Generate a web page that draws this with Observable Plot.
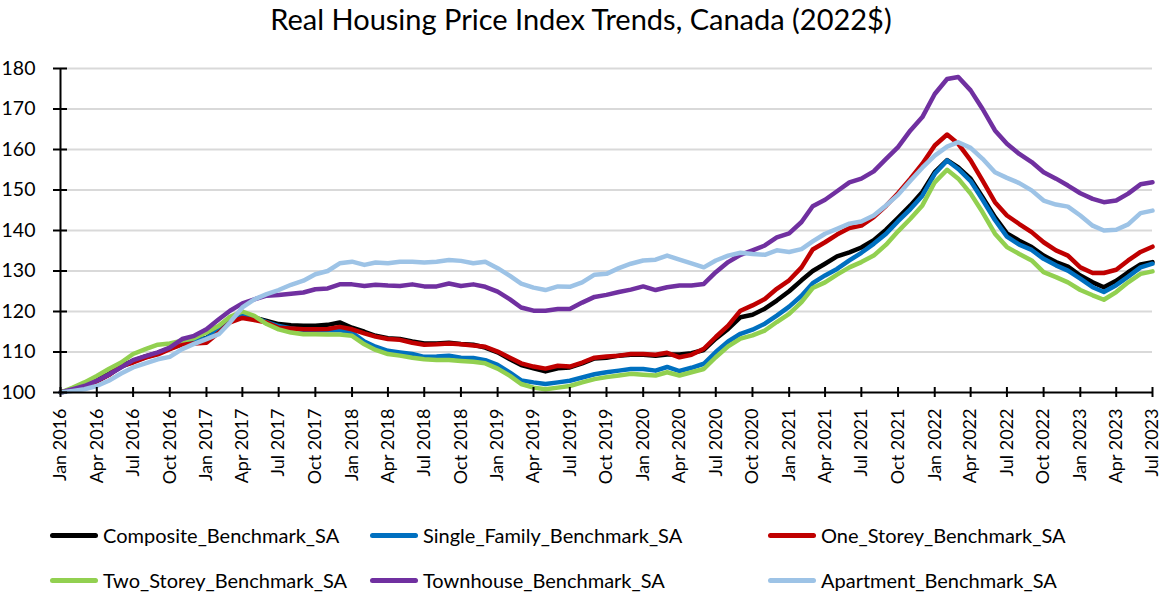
<!DOCTYPE html>
<html><head><meta charset="utf-8">
<script src="https://cdn.jsdelivr.net/npm/d3@7"></script>
<script src="https://cdn.jsdelivr.net/npm/@observablehq/plot@0.6"></script>
<style>
body{margin:0;background:#fff;font-family:Lato,sans-serif;color:#000;}
#title{height:40px;line-height:38px;text-align:center;font-size:29px;white-space:nowrap;}
#chart{height:455px;}
#legend{position:relative;height:97px;font-size:20px;}
.item{position:absolute;display:flex;align-items:center;white-space:nowrap;}
.sw{width:48px;height:5px;border-radius:3px;margin-right:5px;}
</style></head><body>
<div id="title">Real Housing Price Index Trends, Canada (2022$)</div>
<div id="chart"></div>
<div id="legend"></div>
<script>
const startMonth = new Date(Date.UTC(2016, 0, 1));
const endMonth = new Date(Date.UTC(2023, 6, 1));
const seriesNames = ["Composite_Benchmark_SA","Single_Family_Benchmark_SA","One_Storey_Benchmark_SA","Two_Storey_Benchmark_SA","Townhouse_Benchmark_SA","Apartment_Benchmark_SA"];
const seriesColors = ["#000000","#0070C0","#C00000","#92D050","#7030A0","#9DC3E6"];
const yTicks = [100,110,120,130,140,150,160,170,180];

const composite = [100,100.8,101.7,103,104.6,106.5,107.8,108.9,109.8,110.9,112.2,112.8,113.5,115.5,117.8,119.0,118.5,117.7,116.9,116.6,116.5,116.5,116.7,117.3,116.0,115.0,114.0,113.4,113.2,112.6,112.1,112.1,112.3,112.0,111.8,111.1,109.9,108.2,106.8,106.0,105.2,106.0,106.2,107.2,108.4,108.6,109.1,109.3,109.3,109.1,109.4,109.4,109.7,110.5,113.3,115.7,118.6,119.2,120.7,122.7,125.0,127.7,130.0,131.8,133.6,134.6,135.8,137.6,140.2,143.1,146.2,149.5,154.4,157.4,155.6,152.8,148.2,143.3,139.3,137.5,135.9,133.8,132.2,131.1,128.9,127.2,126.0,127.6,129.7,131.6,132.2];
const singleFamily = [100,100.7,101.5,102.8,104.4,106.3,107.6,108.7,109.6,110.8,112.0,112.6,113.4,115.4,117.8,119.2,118.5,117.4,116.4,115.8,115.4,115.3,115.4,115.4,114.8,112.6,111.3,110.3,109.9,109.5,108.8,108.9,109.1,108.6,108.5,108.0,106.8,104.9,103.0,102.5,102.1,102.5,102.9,103.7,104.5,105.0,105.4,105.8,105.8,105.4,106.3,105.3,106.1,107.1,110.0,112.6,114.5,115.5,117.0,119.0,121.2,123.9,127.0,128.9,130.5,132.6,134.5,136.7,139.2,142.3,145.3,148.6,154.0,157.3,155.2,152.2,147.6,142.6,138.5,136.5,135.2,133.0,131.4,130.1,128.1,126.0,124.8,126.5,128.6,130.9,131.8];
const oneStorey = [100,100.8,101.5,102.8,104.3,106.5,107.4,108.6,109.4,110.7,111.9,112.1,112.3,114.8,117.3,118.4,117.9,117.3,116.0,115.8,115.6,115.6,115.7,116.2,115.6,114.6,113.8,113.2,113.0,112.3,111.8,111.9,112.1,111.9,111.6,111.3,110.1,108.6,107.2,106.4,105.9,106.6,106.4,107.4,108.6,108.9,109.1,109.5,109.5,109.3,109.8,108.7,109.3,110.8,113.7,116.5,120.2,121.5,123.1,125.6,127.7,130.9,135.3,137.1,139.0,140.6,141.2,143.3,146.1,149.2,152.8,156.5,161.0,163.7,161.4,157.3,152.3,147.0,143.7,141.6,139.6,137.1,135.1,133.8,130.9,129.5,129.5,130.3,132.6,134.7,136.0];
const twoStorey = [100,101.2,102.5,104.1,105.8,107.4,109.5,110.7,111.8,112.1,112.8,113.4,114.8,116.5,118.7,120.0,118.9,116.9,115.6,114.8,114.4,114.4,114.3,114.3,114.0,111.9,110.5,109.5,109.1,108.6,108.2,108.0,108.0,107.8,107.6,107.2,105.9,104.1,102.1,101.2,100.8,101.2,101.6,102.5,103.3,103.8,104.2,104.6,104.4,104.2,105.0,104.2,105.0,105.8,108.7,111.4,113.3,114.1,115.3,117.4,119.4,122.3,125.8,127.2,129.1,130.9,132.2,133.8,136.5,139.8,142.9,146.2,151.9,155.0,152.8,149.1,144.5,139.2,135.9,134.2,132.6,129.7,128.5,127.2,125.3,124.0,122.9,124.8,127.2,129.3,129.9];
const townhouse = [100,100.8,101.6,102.9,104.4,106.2,108.0,109.0,109.9,111.1,113.2,114.0,115.6,118.1,120.2,122.0,123.0,123.9,124.1,124.4,124.7,125.5,125.7,126.7,126.7,126.3,126.6,126.4,126.3,126.7,126.2,126.2,126.9,126.3,126.7,126.1,124.9,123.0,121.0,120.2,120.2,120.6,120.6,122.2,123.6,124.1,124.8,125.4,126.2,125.3,126.0,126.4,126.4,126.8,129.7,132.2,134.0,135.1,136.3,138.3,139.3,142.1,146.0,147.6,149.7,151.9,152.8,154.6,157.7,160.6,164.7,168.0,173.7,177.4,177.9,174.6,170.0,164.7,161.4,158.9,156.9,154.4,152.8,151.1,149.2,147.8,147.0,147.4,149.1,151.4,151.9];
const apartment = [100,100.4,100.8,101.6,102.9,104.7,106.2,107.2,108.2,108.8,110.7,112.0,113.2,114.4,117.3,121.0,123.0,124.3,125.3,126.6,127.6,129.2,130.0,131.9,132.3,131.5,132.1,131.9,132.3,132.3,132.1,132.3,132.7,132.5,131.9,132.3,130.7,128.8,126.9,125.9,125.3,126.2,126.1,127.2,129.1,129.3,130.7,131.8,132.6,132.8,133.8,132.8,131.9,130.9,132.6,133.8,134.5,134.2,134.0,135.1,134.7,135.4,137.3,139.2,140.4,141.7,142.2,143.7,146.2,148.8,152.3,155.5,158.5,160.7,161.8,160.4,157.7,154.4,153.0,151.7,149.9,147.4,146.4,145.9,143.7,141.2,140.0,140.2,141.5,144.3,144.9];

const seriesValues = [composite, singleFamily, oneStorey, twoStorey, townhouse, apartment];
const months = d3.utcMonth.range(startMonth, d3.utcMonth.offset(endMonth, 1));
const xTicks = d3.utcMonth.every(3).range(startMonth, d3.utcMonth.offset(endMonth, 1));

const rows = [];
seriesValues.forEach((vals, s) => vals.forEach((v, i) => rows.push({date: months[i], value: v, series: seriesNames[s]})));

const fmt = d3.utcFormat("%b %Y");
const chart = Plot.plot({
  width: 1162, height: 455,
  marginLeft: 60, marginRight: 10, marginTop: 28, marginBottom: 103,
  style: {fontFamily: "Lato, sans-serif", fontSize: "18px", color: "#000", background: "#fff", overflow: "visible"},
  x: {type: "utc", domain: [startMonth, endMonth]},
  y: {domain: [100, 180]},
  color: {domain: seriesNames, range: seriesColors},
  marks: [
    Plot.gridY(yTicks.filter(d => d > 100), {stroke: "#d9d9d9", strokeOpacity: 1, strokeWidth: 2}),
    Plot.lineY(rows, {x: "date", y: "value", z: "series", stroke: "series", strokeWidth: 4.5, strokeLinejoin: "round", strokeLinecap: "round"}),
    Plot.ruleX([startMonth], {stroke: "#000", strokeWidth: 2}),
    Plot.ruleY([100], {stroke: "#000", strokeWidth: 2}),
    Plot.axisY(yTicks, {tickSize: 7, tickPadding: 18, stroke: "#000", strokeWidth: 2, label: null, fontSize: 19.5}),
    Plot.axisY(yTicks, {tickSize: -7, text: null, stroke: "#000", strokeWidth: 2, label: null}),
    Plot.axisX(xTicks, {tickSize: 5, tickPadding: 11, tickRotate: -90, tickFormat: fmt, stroke: "#000", strokeWidth: 2, label: null, fontSize: 18}),
    Plot.axisX(xTicks, {tickSize: -5, text: null, stroke: "#000", strokeWidth: 2, label: null})
  ]
});
document.getElementById("chart").appendChild(chart);

const legend = document.getElementById("legend");
const colX = [50, 370, 768];
seriesNames.forEach((name, i) => {
  const row = Math.floor(i / 3), col = i % 3;
  const el = document.createElement("div");
  el.className = "item";
  el.style.left = colX[col] + "px";
  el.style.top = (row === 0 ? 28 : 73) + "px";
  el.style.height = "24px";
  el.innerHTML = `<div class="sw" style="background:${seriesColors[i]}"></div><span>${name}</span>`;
  legend.appendChild(el);
});
</script>
</body></html>
